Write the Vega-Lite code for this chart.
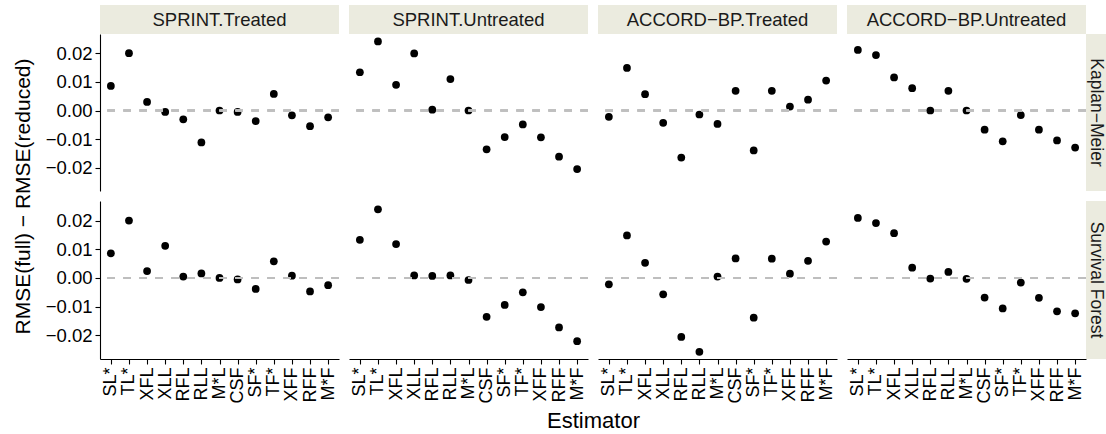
{
  "$schema": "https://vega.github.io/schema/vega-lite/v6.json",
  "padding": {"left": 12, "top": 5, "right": 0, "bottom": 0},
  "background": "white",
  "config": {
    "font": "Liberation Sans",
    "view": {"stroke": null},
    "axis": {
      "grid": false,
      "domainColor": "black",
      "domainWidth": 1.1,
      "tickColor": "black",
      "tickWidth": 1.1,
      "tickSize": 5,
      "labelColor": "black",
      "labelFontSize": 18,
      "labelPadding": 3,
      "titleColor": "black",
      "titleFontSize": 21,
      "titleFontWeight": "normal"
    }
  },
  "data": {
    "values": [
      {"trial": "SPRINT.Treated", "method": "KM", "est": "SL*", "value": 0.0086},
      {"trial": "SPRINT.Treated", "method": "KM", "est": "TL*", "value": 0.0201},
      {"trial": "SPRINT.Treated", "method": "KM", "est": "XFL", "value": 0.0030},
      {"trial": "SPRINT.Treated", "method": "KM", "est": "XLL", "value": -0.0005},
      {"trial": "SPRINT.Treated", "method": "KM", "est": "RFL", "value": -0.0031},
      {"trial": "SPRINT.Treated", "method": "KM", "est": "RLL", "value": -0.0112},
      {"trial": "SPRINT.Treated", "method": "KM", "est": "M*L", "value": 0.0000},
      {"trial": "SPRINT.Treated", "method": "KM", "est": "CSF", "value": -0.0005},
      {"trial": "SPRINT.Treated", "method": "KM", "est": "SF*", "value": -0.0037},
      {"trial": "SPRINT.Treated", "method": "KM", "est": "TF*", "value": 0.0058},
      {"trial": "SPRINT.Treated", "method": "KM", "est": "XFF", "value": -0.0017},
      {"trial": "SPRINT.Treated", "method": "KM", "est": "RFF", "value": -0.0055},
      {"trial": "SPRINT.Treated", "method": "KM", "est": "M*F", "value": -0.0024},
      {"trial": "SPRINT.Untreated", "method": "KM", "est": "SL*", "value": 0.0134},
      {"trial": "SPRINT.Untreated", "method": "KM", "est": "TL*", "value": 0.0242},
      {"trial": "SPRINT.Untreated", "method": "KM", "est": "XFL", "value": 0.0090},
      {"trial": "SPRINT.Untreated", "method": "KM", "est": "XLL", "value": 0.0200},
      {"trial": "SPRINT.Untreated", "method": "KM", "est": "RFL", "value": 0.0003},
      {"trial": "SPRINT.Untreated", "method": "KM", "est": "RLL", "value": 0.0110},
      {"trial": "SPRINT.Untreated", "method": "KM", "est": "M*L", "value": 0.0000},
      {"trial": "SPRINT.Untreated", "method": "KM", "est": "CSF", "value": -0.0136},
      {"trial": "SPRINT.Untreated", "method": "KM", "est": "SF*", "value": -0.0093},
      {"trial": "SPRINT.Untreated", "method": "KM", "est": "TF*", "value": -0.0049},
      {"trial": "SPRINT.Untreated", "method": "KM", "est": "XFF", "value": -0.0094},
      {"trial": "SPRINT.Untreated", "method": "KM", "est": "RFF", "value": -0.0162},
      {"trial": "SPRINT.Untreated", "method": "KM", "est": "M*F", "value": -0.0205},
      {"trial": "ACCORD−BP.Treated", "method": "KM", "est": "SL*", "value": -0.0022},
      {"trial": "ACCORD−BP.Treated", "method": "KM", "est": "TL*", "value": 0.0149},
      {"trial": "ACCORD−BP.Treated", "method": "KM", "est": "XFL", "value": 0.0057},
      {"trial": "ACCORD−BP.Treated", "method": "KM", "est": "XLL", "value": -0.0043},
      {"trial": "ACCORD−BP.Treated", "method": "KM", "est": "RFL", "value": -0.0165},
      {"trial": "ACCORD−BP.Treated", "method": "KM", "est": "RLL", "value": -0.0014},
      {"trial": "ACCORD−BP.Treated", "method": "KM", "est": "M*L", "value": -0.0047},
      {"trial": "ACCORD−BP.Treated", "method": "KM", "est": "CSF", "value": 0.0069},
      {"trial": "ACCORD−BP.Treated", "method": "KM", "est": "SF*", "value": -0.0140},
      {"trial": "ACCORD−BP.Treated", "method": "KM", "est": "TF*", "value": 0.0069},
      {"trial": "ACCORD−BP.Treated", "method": "KM", "est": "XFF", "value": 0.0014},
      {"trial": "ACCORD−BP.Treated", "method": "KM", "est": "RFF", "value": 0.0038},
      {"trial": "ACCORD−BP.Treated", "method": "KM", "est": "M*F", "value": 0.0105},
      {"trial": "ACCORD−BP.Untreated", "method": "KM", "est": "SL*", "value": 0.0212},
      {"trial": "ACCORD−BP.Untreated", "method": "KM", "est": "TL*", "value": 0.0194},
      {"trial": "ACCORD−BP.Untreated", "method": "KM", "est": "XFL", "value": 0.0116},
      {"trial": "ACCORD−BP.Untreated", "method": "KM", "est": "XLL", "value": 0.0078},
      {"trial": "ACCORD−BP.Untreated", "method": "KM", "est": "RFL", "value": 0.0000},
      {"trial": "ACCORD−BP.Untreated", "method": "KM", "est": "RLL", "value": 0.0069},
      {"trial": "ACCORD−BP.Untreated", "method": "KM", "est": "M*L", "value": 0.0000},
      {"trial": "ACCORD−BP.Untreated", "method": "KM", "est": "CSF", "value": -0.0067},
      {"trial": "ACCORD−BP.Untreated", "method": "KM", "est": "SF*", "value": -0.0108},
      {"trial": "ACCORD−BP.Untreated", "method": "KM", "est": "TF*", "value": -0.0016},
      {"trial": "ACCORD−BP.Untreated", "method": "KM", "est": "XFF", "value": -0.0067},
      {"trial": "ACCORD−BP.Untreated", "method": "KM", "est": "RFF", "value": -0.0105},
      {"trial": "ACCORD−BP.Untreated", "method": "KM", "est": "M*F", "value": -0.0130},
      {"trial": "SPRINT.Treated", "method": "SF", "est": "SL*", "value": 0.0086},
      {"trial": "SPRINT.Treated", "method": "SF", "est": "TL*", "value": 0.0200},
      {"trial": "SPRINT.Treated", "method": "SF", "est": "XFL", "value": 0.0024},
      {"trial": "SPRINT.Treated", "method": "SF", "est": "XLL", "value": 0.0112},
      {"trial": "SPRINT.Treated", "method": "SF", "est": "RFL", "value": 0.0005},
      {"trial": "SPRINT.Treated", "method": "SF", "est": "RLL", "value": 0.0016},
      {"trial": "SPRINT.Treated", "method": "SF", "est": "M*L", "value": 0.0000},
      {"trial": "SPRINT.Treated", "method": "SF", "est": "CSF", "value": -0.0005},
      {"trial": "SPRINT.Treated", "method": "SF", "est": "SF*", "value": -0.0038},
      {"trial": "SPRINT.Treated", "method": "SF", "est": "TF*", "value": 0.0058},
      {"trial": "SPRINT.Treated", "method": "SF", "est": "XFF", "value": 0.0008},
      {"trial": "SPRINT.Treated", "method": "SF", "est": "RFF", "value": -0.0047},
      {"trial": "SPRINT.Treated", "method": "SF", "est": "M*F", "value": -0.0025},
      {"trial": "SPRINT.Untreated", "method": "SF", "est": "SL*", "value": 0.0133},
      {"trial": "SPRINT.Untreated", "method": "SF", "est": "TL*", "value": 0.0239},
      {"trial": "SPRINT.Untreated", "method": "SF", "est": "XFL", "value": 0.0118},
      {"trial": "SPRINT.Untreated", "method": "SF", "est": "XLL", "value": 0.0009},
      {"trial": "SPRINT.Untreated", "method": "SF", "est": "RFL", "value": 0.0007},
      {"trial": "SPRINT.Untreated", "method": "SF", "est": "RLL", "value": 0.0009},
      {"trial": "SPRINT.Untreated", "method": "SF", "est": "M*L", "value": -0.0007},
      {"trial": "SPRINT.Untreated", "method": "SF", "est": "CSF", "value": -0.0135},
      {"trial": "SPRINT.Untreated", "method": "SF", "est": "SF*", "value": -0.0094},
      {"trial": "SPRINT.Untreated", "method": "SF", "est": "TF*", "value": -0.0050},
      {"trial": "SPRINT.Untreated", "method": "SF", "est": "XFF", "value": -0.0101},
      {"trial": "SPRINT.Untreated", "method": "SF", "est": "RFF", "value": -0.0172},
      {"trial": "SPRINT.Untreated", "method": "SF", "est": "M*F", "value": -0.0220},
      {"trial": "ACCORD−BP.Treated", "method": "SF", "est": "SL*", "value": -0.0022},
      {"trial": "ACCORD−BP.Treated", "method": "SF", "est": "TL*", "value": 0.0148},
      {"trial": "ACCORD−BP.Treated", "method": "SF", "est": "XFL", "value": 0.0053},
      {"trial": "ACCORD−BP.Treated", "method": "SF", "est": "XLL", "value": -0.0057},
      {"trial": "ACCORD−BP.Treated", "method": "SF", "est": "RFL", "value": -0.0205},
      {"trial": "ACCORD−BP.Treated", "method": "SF", "est": "RLL", "value": -0.0257},
      {"trial": "ACCORD−BP.Treated", "method": "SF", "est": "M*L", "value": 0.0005},
      {"trial": "ACCORD−BP.Treated", "method": "SF", "est": "CSF", "value": 0.0068},
      {"trial": "ACCORD−BP.Treated", "method": "SF", "est": "SF*", "value": -0.0138},
      {"trial": "ACCORD−BP.Treated", "method": "SF", "est": "TF*", "value": 0.0067},
      {"trial": "ACCORD−BP.Treated", "method": "SF", "est": "XFF", "value": 0.0015},
      {"trial": "ACCORD−BP.Treated", "method": "SF", "est": "RFF", "value": 0.0060},
      {"trial": "ACCORD−BP.Treated", "method": "SF", "est": "M*F", "value": 0.0127},
      {"trial": "ACCORD−BP.Untreated", "method": "SF", "est": "SL*", "value": 0.0209},
      {"trial": "ACCORD−BP.Untreated", "method": "SF", "est": "TL*", "value": 0.0191},
      {"trial": "ACCORD−BP.Untreated", "method": "SF", "est": "XFL", "value": 0.0156},
      {"trial": "ACCORD−BP.Untreated", "method": "SF", "est": "XLL", "value": 0.0036},
      {"trial": "ACCORD−BP.Untreated", "method": "SF", "est": "RFL", "value": -0.0002},
      {"trial": "ACCORD−BP.Untreated", "method": "SF", "est": "RLL", "value": 0.0021},
      {"trial": "ACCORD−BP.Untreated", "method": "SF", "est": "M*L", "value": -0.0003},
      {"trial": "ACCORD−BP.Untreated", "method": "SF", "est": "CSF", "value": -0.0068},
      {"trial": "ACCORD−BP.Untreated", "method": "SF", "est": "SF*", "value": -0.0106},
      {"trial": "ACCORD−BP.Untreated", "method": "SF", "est": "TF*", "value": -0.0016},
      {"trial": "ACCORD−BP.Untreated", "method": "SF", "est": "XFF", "value": -0.0069},
      {"trial": "ACCORD−BP.Untreated", "method": "SF", "est": "RFF", "value": -0.0116},
      {"trial": "ACCORD−BP.Untreated", "method": "SF", "est": "M*F", "value": -0.0123}
    ]
  },
  "columns": 8,
  "spacing": 0,
  "align": "each",
  "bounds": "flush",
  "concat": [
    {"width": 239, "height": 29, "view": {"fill": "#EBEBDF", "stroke": null}, "data": {"values": [{"label": "SPRINT.Treated"}]}, "mark": {"type": "text", "fontSize": 18.5, "color": "#1A1A1A"}, "encoding": {"text": {"field": "label"}}},
    {"width": 10, "height": 1, "data": {"values": []}, "mark": "point"},
    {"width": 239, "height": 29, "view": {"fill": "#EBEBDF", "stroke": null}, "data": {"values": [{"label": "SPRINT.Untreated"}]}, "mark": {"type": "text", "fontSize": 18.5, "color": "#1A1A1A"}, "encoding": {"text": {"field": "label"}}},
    {"width": 10, "height": 1, "data": {"values": []}, "mark": "point"},
    {"width": 239, "height": 29, "view": {"fill": "#EBEBDF", "stroke": null}, "data": {"values": [{"label": "ACCORD−BP.Treated"}]}, "mark": {"type": "text", "fontSize": 18.5, "color": "#1A1A1A"}, "encoding": {"text": {"field": "label"}}},
    {"width": 10, "height": 1, "data": {"values": []}, "mark": "point"},
    {"width": 239, "height": 29, "view": {"fill": "#EBEBDF", "stroke": null}, "data": {"values": [{"label": "ACCORD−BP.Untreated"}]}, "mark": {"type": "text", "fontSize": 18.5, "color": "#1A1A1A"}, "encoding": {"text": {"field": "label"}}},
    {"width": 20, "height": 1, "data": {"values": []}, "mark": "point"},

    {"width": 239, "height": 157, "transform": [{"filter": "datum.trial == 'SPRINT.Treated' && datum.method == 'KM'"}],
     "layer": [
       {"mark": {"type": "point", "filled": true, "size": 60, "color": "black", "opacity": 1},
        "encoding": {
          "x": {"field": "est", "type": "nominal", "scale": {"type": "point", "padding": 0.6, "domain": ["SL*","TL*","XFL","XLL","RFL","RLL","M*L","CSF","SF*","TF*","XFF","RFF","M*F"]}, "axis": null},
          "y": {"field": "value", "type": "quantitative", "scale": {"domain": [-0.0282, 0.0268], "nice": false, "zero": false}, "axis": {"title": null, "values": [-0.02, -0.01, 0, 0.01, 0.02], "format": ".2f", "labelFontSize": 18.5}}}},
       {"mark": {"type": "rule", "color": "#BFBFBF", "strokeWidth": 1.6, "strokeDash": [7.5, 8.5]}, "encoding": {"y": {"datum": 0, "type": "quantitative", "axis": {"title": null, "values": [-0.02, -0.01, 0, 0.01, 0.02], "format": ".2f", "labelFontSize": 18.5}}}}
     ]},
    {"width": 10, "height": 1, "data": {"values": []}, "mark": "point"},
    {"width": 239, "height": 157, "transform": [{"filter": "datum.trial == 'SPRINT.Untreated' && datum.method == 'KM'"}],
     "layer": [
       {"mark": {"type": "point", "filled": true, "size": 60, "color": "black", "opacity": 1},
        "encoding": {
          "x": {"field": "est", "type": "nominal", "scale": {"type": "point", "padding": 0.6, "domain": ["SL*","TL*","XFL","XLL","RFL","RLL","M*L","CSF","SF*","TF*","XFF","RFF","M*F"]}, "axis": null},
          "y": {"field": "value", "type": "quantitative", "scale": {"domain": [-0.0282, 0.0268], "nice": false, "zero": false}, "axis": null}}},
       {"mark": {"type": "rule", "color": "#BFBFBF", "strokeWidth": 1.6, "strokeDash": [7.5, 8.5]}, "encoding": {"y": {"datum": 0, "type": "quantitative", "axis": null}}}
     ]},
    {"width": 10, "height": 1, "data": {"values": []}, "mark": "point"},
    {"width": 239, "height": 157, "transform": [{"filter": "datum.trial == 'ACCORD−BP.Treated' && datum.method == 'KM'"}],
     "layer": [
       {"mark": {"type": "point", "filled": true, "size": 60, "color": "black", "opacity": 1},
        "encoding": {
          "x": {"field": "est", "type": "nominal", "scale": {"type": "point", "padding": 0.6, "domain": ["SL*","TL*","XFL","XLL","RFL","RLL","M*L","CSF","SF*","TF*","XFF","RFF","M*F"]}, "axis": null},
          "y": {"field": "value", "type": "quantitative", "scale": {"domain": [-0.0282, 0.0268], "nice": false, "zero": false}, "axis": null}}},
       {"mark": {"type": "rule", "color": "#BFBFBF", "strokeWidth": 1.6, "strokeDash": [7.5, 8.5]}, "encoding": {"y": {"datum": 0, "type": "quantitative", "axis": null}}}
     ]},
    {"width": 10, "height": 1, "data": {"values": []}, "mark": "point"},
    {"width": 239, "height": 157, "transform": [{"filter": "datum.trial == 'ACCORD−BP.Untreated' && datum.method == 'KM'"}],
     "layer": [
       {"mark": {"type": "point", "filled": true, "size": 60, "color": "black", "opacity": 1},
        "encoding": {
          "x": {"field": "est", "type": "nominal", "scale": {"type": "point", "padding": 0.6, "domain": ["SL*","TL*","XFL","XLL","RFL","RLL","M*L","CSF","SF*","TF*","XFF","RFF","M*F"]}, "axis": null},
          "y": {"field": "value", "type": "quantitative", "scale": {"domain": [-0.0282, 0.0268], "nice": false, "zero": false}, "axis": null}}},
       {"mark": {"type": "rule", "color": "#BFBFBF", "strokeWidth": 1.6, "strokeDash": [7.5, 8.5]}, "encoding": {"y": {"datum": 0, "type": "quantitative", "axis": null}}}
     ]},
    {"width": 20, "height": 157, "view": {"fill": "#EBEBDF", "stroke": null}, "data": {"values": [{"label": "Kaplan−Meier"}]}, "mark": {"type": "text", "fontSize": 17.5, "angle": 90, "color": "#1A1A1A"}, "encoding": {"text": {"field": "label"}}},

    {"width": 239, "height": 10, "data": {"values": [{"v": 0}]}, "mark": {"type": "point", "opacity": 0},
     "encoding": {"y": {"field": "v", "type": "quantitative", "scale": {"domain": [0, 1]}, "axis": {"title": "RMSE(full) − RMSE(reduced)", "labels": false, "ticks": false, "domain": false, "titlePadding": 67}}}},
    {"width": 10, "height": 1, "data": {"values": []}, "mark": "point"},
    {"width": 239, "height": 1, "data": {"values": []}, "mark": "point"},
    {"width": 10, "height": 1, "data": {"values": []}, "mark": "point"},
    {"width": 239, "height": 1, "data": {"values": []}, "mark": "point"},
    {"width": 10, "height": 1, "data": {"values": []}, "mark": "point"},
    {"width": 239, "height": 1, "data": {"values": []}, "mark": "point"},
    {"width": 20, "height": 1, "data": {"values": []}, "mark": "point"},

    {"width": 239, "height": 158, "transform": [{"filter": "datum.trial == 'SPRINT.Treated' && datum.method == 'SF'"}],
     "layer": [
       {"mark": {"type": "point", "filled": true, "size": 60, "color": "black", "opacity": 1},
        "encoding": {
          "x": {"field": "est", "type": "nominal", "scale": {"type": "point", "padding": 0.6, "domain": ["SL*","TL*","XFL","XLL","RFL","RLL","M*L","CSF","SF*","TF*","XFF","RFF","M*F"]}, "axis": {"title": null, "labelAngle": 270, "labelOverlap": false}},
          "y": {"field": "value", "type": "quantitative", "scale": {"domain": [-0.0282, 0.0268], "nice": false, "zero": false}, "axis": {"title": null, "values": [-0.02, -0.01, 0, 0.01, 0.02], "format": ".2f", "labelFontSize": 18.5}}}},
       {"mark": {"type": "rule", "color": "#BFBFBF", "strokeWidth": 1.6, "strokeDash": [7.5, 8.5]}, "encoding": {"y": {"datum": 0, "type": "quantitative", "axis": {"title": null, "values": [-0.02, -0.01, 0, 0.01, 0.02], "format": ".2f", "labelFontSize": 18.5}}}}
     ]},
    {"width": 10, "height": 1, "data": {"values": []}, "mark": "point"},
    {"width": 239, "height": 158, "transform": [{"filter": "datum.trial == 'SPRINT.Untreated' && datum.method == 'SF'"}],
     "layer": [
       {"mark": {"type": "point", "filled": true, "size": 60, "color": "black", "opacity": 1},
        "encoding": {
          "x": {"field": "est", "type": "nominal", "scale": {"type": "point", "padding": 0.6, "domain": ["SL*","TL*","XFL","XLL","RFL","RLL","M*L","CSF","SF*","TF*","XFF","RFF","M*F"]}, "axis": {"title": null, "labelAngle": 270, "labelOverlap": false}},
          "y": {"field": "value", "type": "quantitative", "scale": {"domain": [-0.0282, 0.0268], "nice": false, "zero": false}, "axis": null}}},
       {"mark": {"type": "rule", "color": "#BFBFBF", "strokeWidth": 1.6, "strokeDash": [7.5, 8.5]}, "encoding": {"y": {"datum": 0, "type": "quantitative", "axis": null}}}
     ]},
    {"width": 10, "height": 158, "data": {"values": [{"v": 0}]}, "mark": {"type": "point", "opacity": 0},
     "encoding": {"x": {"field": "v", "type": "quantitative", "scale": {"domain": [0, 1]}, "axis": {"title": "Estimator", "labels": false, "ticks": false, "domain": false, "titlePadding": 51, "titleFontSize": 22}}}},
    {"width": 239, "height": 158, "transform": [{"filter": "datum.trial == 'ACCORD−BP.Treated' && datum.method == 'SF'"}],
     "layer": [
       {"mark": {"type": "point", "filled": true, "size": 60, "color": "black", "opacity": 1},
        "encoding": {
          "x": {"field": "est", "type": "nominal", "scale": {"type": "point", "padding": 0.6, "domain": ["SL*","TL*","XFL","XLL","RFL","RLL","M*L","CSF","SF*","TF*","XFF","RFF","M*F"]}, "axis": {"title": null, "labelAngle": 270, "labelOverlap": false}},
          "y": {"field": "value", "type": "quantitative", "scale": {"domain": [-0.0282, 0.0268], "nice": false, "zero": false}, "axis": null}}},
       {"mark": {"type": "rule", "color": "#BFBFBF", "strokeWidth": 1.6, "strokeDash": [7.5, 8.5]}, "encoding": {"y": {"datum": 0, "type": "quantitative", "axis": null}}}
     ]},
    {"width": 10, "height": 1, "data": {"values": []}, "mark": "point"},
    {"width": 239, "height": 158, "transform": [{"filter": "datum.trial == 'ACCORD−BP.Untreated' && datum.method == 'SF'"}],
     "layer": [
       {"mark": {"type": "point", "filled": true, "size": 60, "color": "black", "opacity": 1},
        "encoding": {
          "x": {"field": "est", "type": "nominal", "scale": {"type": "point", "padding": 0.6, "domain": ["SL*","TL*","XFL","XLL","RFL","RLL","M*L","CSF","SF*","TF*","XFF","RFF","M*F"]}, "axis": {"title": null, "labelAngle": 270, "labelOverlap": false}},
          "y": {"field": "value", "type": "quantitative", "scale": {"domain": [-0.0282, 0.0268], "nice": false, "zero": false}, "axis": null}}},
       {"mark": {"type": "rule", "color": "#BFBFBF", "strokeWidth": 1.6, "strokeDash": [7.5, 8.5]}, "encoding": {"y": {"datum": 0, "type": "quantitative", "axis": null}}}
     ]},
    {"width": 20, "height": 158, "view": {"fill": "#EBEBDF", "stroke": null}, "data": {"values": [{"label": "Survival Forest"}]}, "mark": {"type": "text", "fontSize": 17.5, "angle": 90, "color": "#1A1A1A"}, "encoding": {"text": {"field": "label"}}}
  ]
}
